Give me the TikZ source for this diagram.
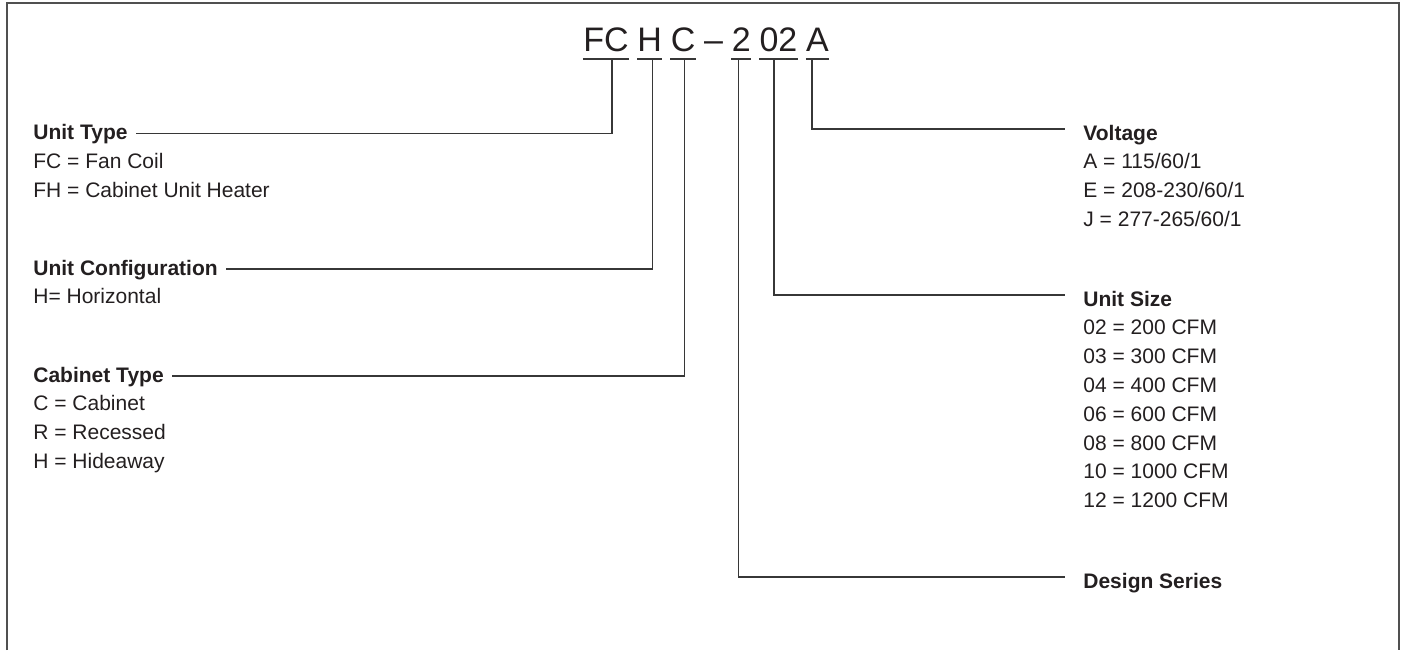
\documentclass[tikz,border=0pt]{standalone}
\usepackage{fontspec}
\setmainfont{Liberation Sans}
\usetikzlibrary{positioning}
\definecolor{ink}{RGB}{35,31,32}
\definecolor{rule}{RGB}{55,55,55}
\definecolor{frame}{RGB}{80,80,80}

\begin{document}
\begin{tikzpicture}[
      x=0.5pt, y=-0.5pt,
      code/.style={font=\fontsize{17}{20}\selectfont, text=ink, inner sep=0pt, anchor=base},
      head/.style={font=\fontsize{10.5}{13}\selectfont\bfseries, text=ink, inner sep=0pt,
                   anchor=base west, text depth=0pt},
      headL/.style={head, text height=6pt},
      headR/.style={head, text height=11pt},
      item/.style={font=\fontsize{10.5}{13}\selectfont, text=ink, inner sep=0pt, anchor=base west},
      uline/.style={draw=rule, line width=1pt},
      lead/.style={draw=rule, line width=0.75pt},
    ]
    \useasboundingbox (0,0) rectangle (1405,650);
    \draw[frame, line width=1.2pt] (7,650) -- (7,3) -- (1399,3) -- (1399,650);

    % model code
    \node[code] (ct) at (606,51) {FC};
    \node[code, base right=4pt of ct] (cc) {H};
    \node[code, base right=4pt of cc] (cb) {C};
    \node[code, base right=4pt of cb] (cd) {–};
    \node[code, base right=4pt of cd] (cs) {2};
    \node[code, base right=4pt of cs] (cz) {02};
    \node[code, base right=4pt of cz] (cv) {A};
    \foreach \c in {ct,cc,cb,cs,cz,cv}
      \draw[uline] ([yshift=-3.8pt]\c.base west) -- ([yshift=-3.8pt]\c.base east);

    \coordinate (tUT) at ([xshift=3pt,yshift=-3.8pt]ct.base);
    \coordinate (tUC) at ([xshift=1.5pt,yshift=-3.8pt]cc.base);
    \coordinate (tCT) at ([xshift=0.75pt,yshift=-3.8pt]cb.base);
    \coordinate (tDS) at ([xshift=-1.5pt,yshift=-3.8pt]cs.base);
    \coordinate (tUS) at ([xshift=-2.2pt,yshift=-3.8pt]cz.base);
    \coordinate (tV) at ([xshift=-2.8pt,yshift=-3.8pt]cv.base);

    % left column
    \node[headL] (unittype) at (33,139.5) {Unit Type};
    \foreach \t [count=\i] in {FC = Fan Coil, FH = Cabinet Unit Heater}
      \node[item] (unittype-\i) at ([yshift=-\i*14.4pt]unittype.base west) {\t};
    \node[headL] (unitconfig) at (33,275) {Unit Configuration};
    \foreach \t [count=\i] in {H= Horizontal}
      \node[item] (unitconfig-\i) at ([yshift=-\i*14.4pt]unitconfig.base west) {\t};
    \node[headL] (cabtype) at (33,382) {Cabinet Type};
    \foreach \t [count=\i] in {C = Cabinet, R = Recessed, H = Hideaway}
      \node[item] (cabtype-\i) at ([yshift=-\i*14.4pt]cabtype.base west) {\t};

    % right column
    \node[headR] (voltage) at (1083,140) {Voltage};
    \foreach \t [count=\i] in {A = 115/60/1, E = 208-230/60/1, J = 277-265/60/1}
      \node[item] (voltage-\i) at ([yshift=-\i*14.4pt]voltage.base west) {\t};
    \node[headR] (unitsize) at (1083,306) {Unit Size};
    \foreach \t [count=\i] in {02 = 200 CFM, 03 = 300 CFM, 04 = 400 CFM, 06 = 600 CFM,
                               08 = 800 CFM, 10 = 1000 CFM, 12 = 1200 CFM}
      \node[item] (unitsize-\i) at ([yshift=-\i*14.4pt]unitsize.base west) {\t};
    \node[headR] (series) at (1083,588) {Design Series};

    % leaders
    \draw[lead, shorten >=4pt] (tUT) |- (unittype.east);
    \draw[lead, shorten >=4pt] (tUC) |- (unitconfig.east);
    \draw[lead, shorten >=4pt] (tCT) |- (cabtype.east);
    \draw[lead, shorten >=9pt] (tV) |- (voltage.west);
    \draw[lead, shorten >=9pt] (tUS) |- (unitsize.west);
    \draw[lead, shorten >=9pt] (tDS) |- (series.west);
  \end{tikzpicture}
\end{document}
